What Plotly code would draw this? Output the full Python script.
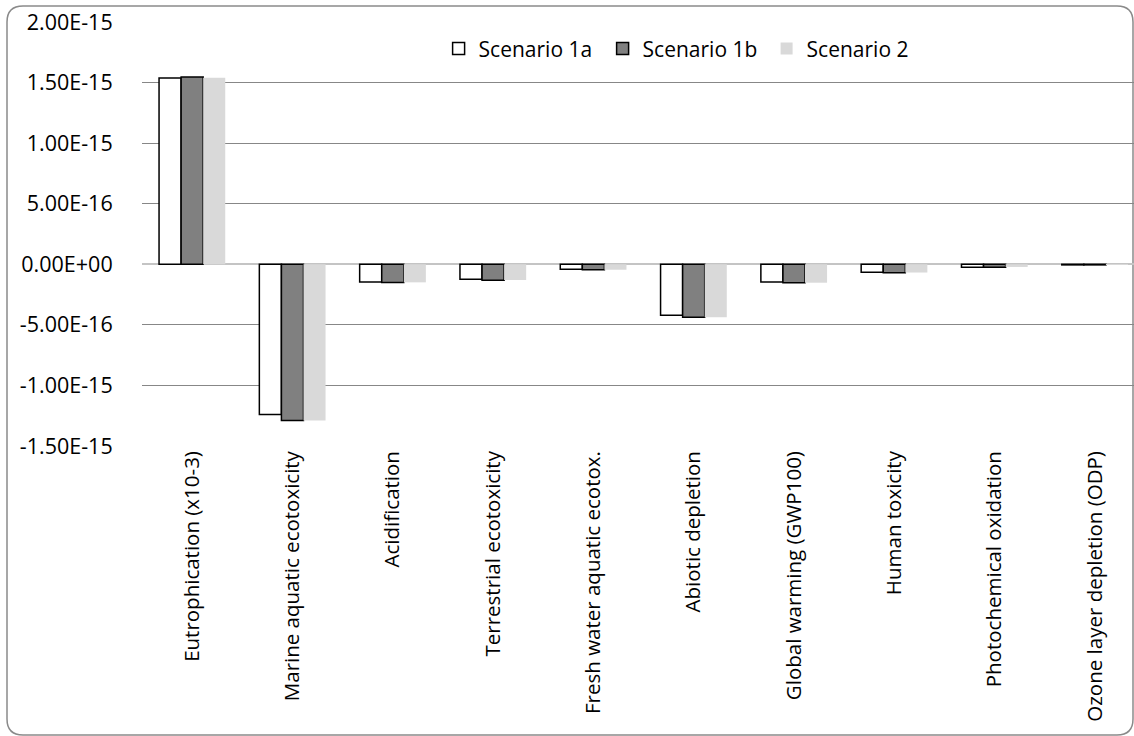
import plotly.graph_objects as go

categories = ["Eutrophication (x10-3)", "Marine aquatic ecotoxicity", "Acidification",
              "Terrestrial ecotoxicity", "Fresh water aquatic ecotox.", "Abiotic depletion",
              "Global warming (GWP100)", "Human toxicity", "Photochemical oxidation",
              "Ozone layer depletion (ODP)"]
scenario_1a = [1.537e-15, -1.24e-15, -0.146e-15, -0.124e-15, -0.041e-15, -0.421e-15,
               -0.146e-15, -0.066e-15, -0.025e-15, -0.005e-15]
scenario_1b = [1.545e-15, -1.29e-15, -0.151e-15, -0.132e-15, -0.045e-15, -0.438e-15,
               -0.153e-15, -0.069e-15, -0.025e-15, -0.005e-15]
scenario_2 = [1.540e-15, -1.29e-15, -0.149e-15, -0.130e-15, -0.045e-15, -0.438e-15,
              -0.152e-15, -0.068e-15, -0.022e-15, -0.004e-15]
y_tick_vals = [2e-15, 1.5e-15, 1e-15, 5e-16, 0, -5e-16, -1e-15, -1.5e-15]
y_tick_text = ["2.00E-15", "1.50E-15", "1.00E-15", "5.00E-16", "0.00E+00",
               "-5.00E-16", "-1.00E-15", "-1.50E-15"]

FONT = "Open Sans"
W, H = 1134, 736
ML, MR, MT, MB = 142, 0, 22, 290

fig = go.Figure()
fig.add_trace(go.Bar(name="Scenario 1a", x=categories, y=scenario_1a,
                     marker=dict(color="white", line=dict(color="black", width=1.5))))
fig.add_trace(go.Bar(name="Scenario 1b", x=categories, y=scenario_1b,
                     marker=dict(color="#808080", line=dict(color="black", width=1.5))))
fig.add_trace(go.Bar(name="Scenario 2", x=categories, y=scenario_2,
                     marker=dict(color="#d9d9d9", line=dict(width=0))))

# rounded chart border (pixel -> paper conversion)
pw = W - ML - MR
ph = H - MT - MB
def px(x):
    return (x - ML) / pw
def py(y):
    return (H - MB - y) / ph
x0, x1, y0, y1, r = 7, 1133, 6, 735, 16
path = (f"M {px(x0+r)},{py(y0)} L {px(x1-r)},{py(y0)} Q {px(x1)},{py(y0)} {px(x1)},{py(y0+r)} "
        f"L {px(x1)},{py(y1-r)} Q {px(x1)},{py(y1)} {px(x1-r)},{py(y1)} "
        f"L {px(x0+r)},{py(y1)} Q {px(x0)},{py(y1)} {px(x0)},{py(y1-r)} "
        f"L {px(x0)},{py(y0+r)} Q {px(x0)},{py(y0)} {px(x0+r)},{py(y0)} Z")

fig.update_layout(
    width=W, height=H,
    margin=dict(l=ML, r=MR, t=MT, b=MB),
    paper_bgcolor="white", plot_bgcolor="white",
    font=dict(family=FONT, color="black"),
    barmode="group", bargap=0.34, bargroupgap=0,
    showlegend=True,
    legend=dict(orientation="h", x=0.299, y=0.985, xanchor="left", yanchor="top",
                font=dict(size=21, family=FONT), itemwidth=30, bgcolor="rgba(0,0,0,0)",
                traceorder="normal", entrywidth=119, entrywidthmode="pixels"),
    shapes=[dict(type="path", path=path, xref="paper", yref="paper",
                 line=dict(color="#8a8a8a", width=1.5), layer="below")],
    xaxis=dict(range=[-0.5, 9.39], tickangle=-90, tickfont=dict(size=20.5, family=FONT),
               showgrid=False, showline=False, zeroline=False, ticks=""),
    yaxis=dict(range=[-1.5e-15, 2e-15], tickvals=y_tick_vals, ticktext=y_tick_text,
               tickfont=dict(size=21.5, family=FONT), showgrid=True, gridcolor="#878787",
               gridwidth=1.3, zeroline=True, zerolinecolor="#c4c4c4", zerolinewidth=1.5,
               showline=False, ticks="outside", ticklen=24, tickcolor="rgba(0,0,0,0)"),
)

fig.write_html("out.html", config={"displayModeBar": False},
               post_script="document.body.style.margin='0';")
